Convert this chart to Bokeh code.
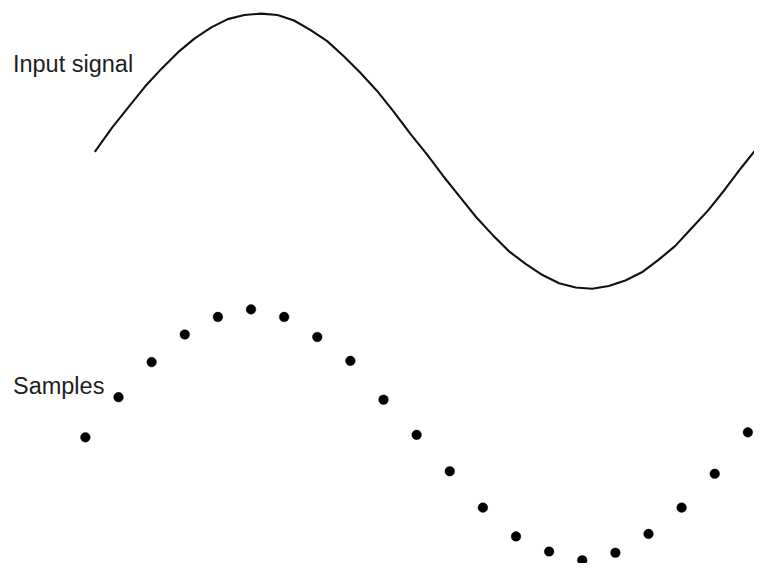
from bokeh.plotting import figure
from bokeh.models import Range1d, Label
from bokeh.embed import file_html
from bokeh.resources import INLINE

# Input signal (time in sample periods, normalized amplitude)
signal_t = [0.3, 0.8, 1.3, 1.8, 2.3, 2.8, 3.3, 3.8, 4.3, 4.8, 5.3, 5.8, 6.3, 6.8,
            7.3, 7.8, 8.3, 8.8, 9.3, 9.8, 10.3, 10.8, 11.3, 11.8, 12.3, 12.8, 13.3,
            13.8, 14.3, 14.8, 15.3, 15.8, 16.3, 16.8, 17.3, 17.8, 18.3, 18.8, 19.3,
            19.8, 20.2]
signal_a = [0.00, 0.17, 0.32, 0.47, 0.60, 0.72, 0.82, 0.90, 0.96, 0.99, 1.00, 0.99,
            0.95, 0.88, 0.80, 0.69, 0.57, 0.44, 0.29, 0.13, -0.02, -0.18, -0.33,
            -0.48, -0.61, -0.73, -0.82, -0.90, -0.96, -0.99, -1.00, -0.98, -0.94,
            -0.88, -0.79, -0.69, -0.56, -0.43, -0.28, -0.12, 0.00]

# Samples (sample index, normalized amplitude)
sample_n = list(range(21))
sample_v = [-0.02, 0.30, 0.58, 0.80, 0.94, 1.00, 0.94, 0.78, 0.59, 0.28, 0.00,
            -0.29, -0.58, -0.81, -0.93, -1.00, -0.94, -0.79, -0.58, -0.31, 0.02]

label_signal = "Input signal"
label_samples = "Samples"

FONT = "Liberation Sans"

p = figure(width=754, height=563, output_backend="svg", toolbar_location=None,
           x_range=Range1d(-2.563, 20.2), y_range=Range1d(-2.9965, 1.0954),
           min_border=0)
p.extra_y_ranges = {"samples": Range1d(-1.0256, 3.4628)}
p.axis.visible = False
p.grid.visible = False
p.outline_line_color = None
p.background_fill_color = "white"
p.border_fill_color = "white"

p.line(signal_t, signal_a, line_color="#111111", line_width=2.1,
       line_join="round", line_cap="round")
p.scatter(sample_n, sample_v, y_range_name="samples", size=9.7,
          fill_color="#000000", line_color="#000000", line_width=0.4)

p.add_layout(Label(x=-2.187, y=0.631, text=label_signal, text_font=FONT,
                   text_font_size="23.5px", text_color="#1e1e1e",
                   text_baseline="alphabetic", text_align="left"))
p.add_layout(Label(x=-2.187, y=0.393, y_range_name="samples", text=label_samples,
                   text_font=FONT, text_font_size="23.5px", text_color="#1e1e1e",
                   text_baseline="alphabetic", text_align="left"))

open("out.html", "w").write(file_html(p, INLINE))
